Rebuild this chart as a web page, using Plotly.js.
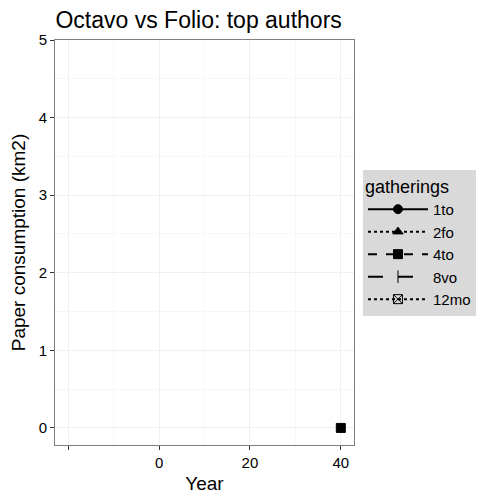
<!DOCTYPE html>
<html>
<head>
<script src="https://cdn.plot.ly/plotly-3.0.1.min.js"></script>
<style>body{margin:0}</style>
</head>
<body>
<div id="plot" style="width:504px;height:504px"></div>
<script>
// gatherings and their observed points
var gatherings = ['1to', '2fo', '4to', '8vo', '12mo'];
var years = [[], [], [40], [], []];
var consumption = [[], [], [0], [], []];
var dashes = ['solid', 'dot', 'dash', 'longdash', 'dot'];
var symbols = ['circle', 'triangle-up', 'square', 'line-ns-open', 'square-x-open'];
var xTicks = [-20, 0, 20, 40];
var xLabels = ['', '0', '20', '40'];

var data = [];
gatherings.forEach(function(g, i){
  data.push({
    x: years[i].length ? years[i] : [null],
    y: consumption[i].length ? consumption[i] : [null],
    name: g, type: 'scatter', mode: 'lines+markers',
    line: {color: 'black', dash: dashes[i], width: 2},
    marker: {color: 'black', symbol: symbols[i], size: 9, line: {color: 'black', width: 1}}
  });
});

var grid = '#f0f0f0';
var layout = {
  width: 504, height: 504,
  margin: {l: 55, r: 150, t: 40, b: 59},
  paper_bgcolor: 'white', plot_bgcolor: 'white',
  font: {family: 'Liberation Sans, Arial, sans-serif', size: 15, color: 'black'},
  title: {text: 'Octavo vs Folio: top authors', x: 0.11, xanchor: 'left',
          yref: 'container', y: 0.96, yanchor: 'middle', font: {size: 23}},
  xaxis: {
    range: [-22.9, 42.9], tickvals: xTicks, ticktext: xLabels,
    ticks: 'outside', ticklen: 4, tickcolor: '#333', showgrid: true, gridcolor: grid,
    minor: {dtick: 10, showgrid: true, gridcolor: '#f7f7f7'},
    zeroline: false, showline: true, linecolor: '#7f7f7f', mirror: true,
    title: {text: 'Year', font: {size: 19}, standoff: 6}
  },
  yaxis: {
    range: [-0.22, 5.0], tickvals: [0, 1, 2, 3, 4, 5],
    ticks: 'outside', ticklen: 4, tickcolor: '#333', showgrid: true, gridcolor: grid,
    minor: {dtick: 0.5, showgrid: true, gridcolor: '#f7f7f7'},
    zeroline: false, showline: true, linecolor: '#7f7f7f', mirror: true,
    title: {text: 'Paper consumption (km2)', font: {size: 19}, standoff: 8}
  },
  legend: {
    x: 1.03, y: 0.5, yanchor: 'middle', bgcolor: '#d9d9d9',
    title: {text: 'gatherings', font: {size: 18}},
    font: {size: 15}, itemwidth: 60, tracegroupgap: 0
  },
  showlegend: true
};

Plotly.newPlot('plot', data, layout, {displayModeBar: false});
</script>
</body>
</html>
